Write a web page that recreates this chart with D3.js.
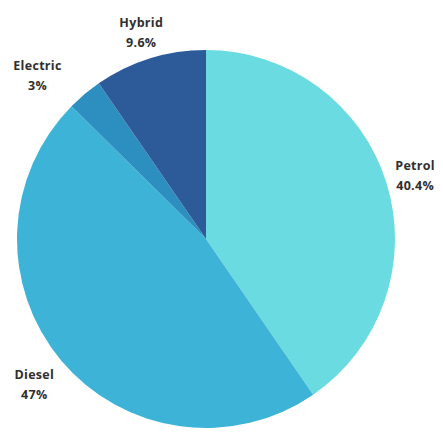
<!DOCTYPE html>
<html>
<head>
<meta charset="utf-8">
<script src="https://cdn.jsdelivr.net/npm/d3@7"></script>
<style>
html,body{margin:0;padding:0;background:#fff;}
svg{display:block;}
</style>
</head>
<body>
<svg id="chart" width="443" height="432"></svg>
<script>
const categories = ["Petrol", "Diesel", "Electric", "Hybrid"];
const values = [40.4, 47, 3, 9.6];
const valueLabels = ["40.4%", "47%", "3%", "9.6%"];
const colors = ["#6ADCE1", "#3DB4D7", "#2D8EC0", "#2D5B9A"];

const W = 443, H = 432;
const cx = 206, cy = 239, R = 189;
// label placement (angle nudge in degrees, radius) — layout only
const labelLayout = {
  Petrol:   {r: 219, da: 0},
  Diesel:   {r: 224, da: 0},
  Electric: {r: 236, da: -5.6},
  Hybrid:   {r: 218, da: 0}
};

const data = categories.map((c, i) => ({cat: c, value: values[i], label: valueLabels[i], color: colors[i]}));

const svg = d3.select("#chart");
const g = svg.append("g").attr("transform", `translate(${cx},${cy})`);

const pie = d3.pie().value(d => d.value).sort(null);
const arc = d3.arc().innerRadius(0).outerRadius(R);
const arcs = pie(data);

g.selectAll("path").data(arcs).join("path")
  .attr("d", arc)
  .attr("fill", d => d.data.color);

const lab = g.selectAll("g.lab").data(arcs).join("g").attr("class", "lab")
  .attr("transform", d => {
    const L = labelLayout[d.data.cat];
    const a = (d.startAngle + d.endAngle) / 2 + L.da * Math.PI / 180;
    const x = Math.sin(a) * L.r, y = -Math.cos(a) * L.r;
    return `translate(${x},${y})`;
  });

const font = "'Open Sans', sans-serif";
lab.append("text")
  .attr("text-anchor", "middle")
  .attr("y", -4)
  .attr("font-family", font)
  .attr("font-weight", "700")
  .attr("font-size", 12.5)
  .attr("letter-spacing", 0.3)
  .attr("fill", "#2f2f2f")
  .text(d => d.data.cat);
lab.append("text")
  .attr("text-anchor", "middle")
  .attr("y", 16)
  .attr("font-family", font)
  .attr("font-weight", "700")
  .attr("font-size", 12.5)
  .attr("letter-spacing", 0.3)
  .attr("fill", "#2f2f2f")
  .text(d => d.data.label);
</script>
</body>
</html>
